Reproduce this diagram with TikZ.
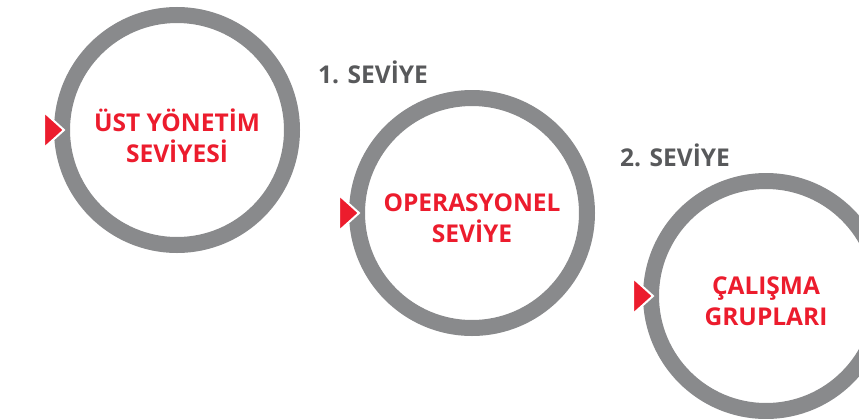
\documentclass[tikz,border=0pt]{standalone}
\usepackage{fontspec}
\setmainfont{Open Sans}
\definecolor{ringgrey}{HTML}{898A8C}
\definecolor{lvlred}{HTML}{EC1C2D}
\definecolor{lblgrey}{HTML}{58595B}
\begin{document}
\begin{tikzpicture}[x=1pt,y=-1pt,
  ring/.style={draw=ringgrey,line width=16pt,fill=white,circle,minimum size=230pt,inner sep=0pt},
  ringtext/.style={text=lvlred,font=\fontsize{24.5}{31}\selectfont\bfseries,align=center},
  lvl/.style={text=lblgrey,font=\fontsize{24.5}{31}\selectfont\bfseries,anchor=base west,inner sep=0pt},
  pointer/.style={fill=lvlred,draw=white,line width=2pt,line join=miter}]
\useasboundingbox (0,0) rectangle (859,418);
\clip (0,0) rectangle (859,418);
\node[ring] (r1) at (177,130) {};
\node[ring] (r2) at (472,213) {};
\node[ring] (r3) at (766,296) {};
\foreach \r in {r1,r2,r3}{
  \draw[pointer] ([xshift=10pt]\r.west) -- ++(-20,-18) -- ++(0,36) -- cycle;
}
\node[ringtext] (t1) at ([yshift=-6pt]r1.center) {ÜST YÖNETİM\\SEVİYESİ};
\node[ringtext] (t2) at ([yshift=-5pt]r2.center) {OPERASYONEL\\SEVİYE};
\node[ringtext] (t3) at ([yshift=-5pt]r3.center) {ÇALIŞMA\\GRUPLARI};
\node[lvl] (l1) at (318,83) {1. SEVİYE};
\node[lvl] (l2) at (620,166) {2. SEVİYE};
\end{tikzpicture}
\end{document}
